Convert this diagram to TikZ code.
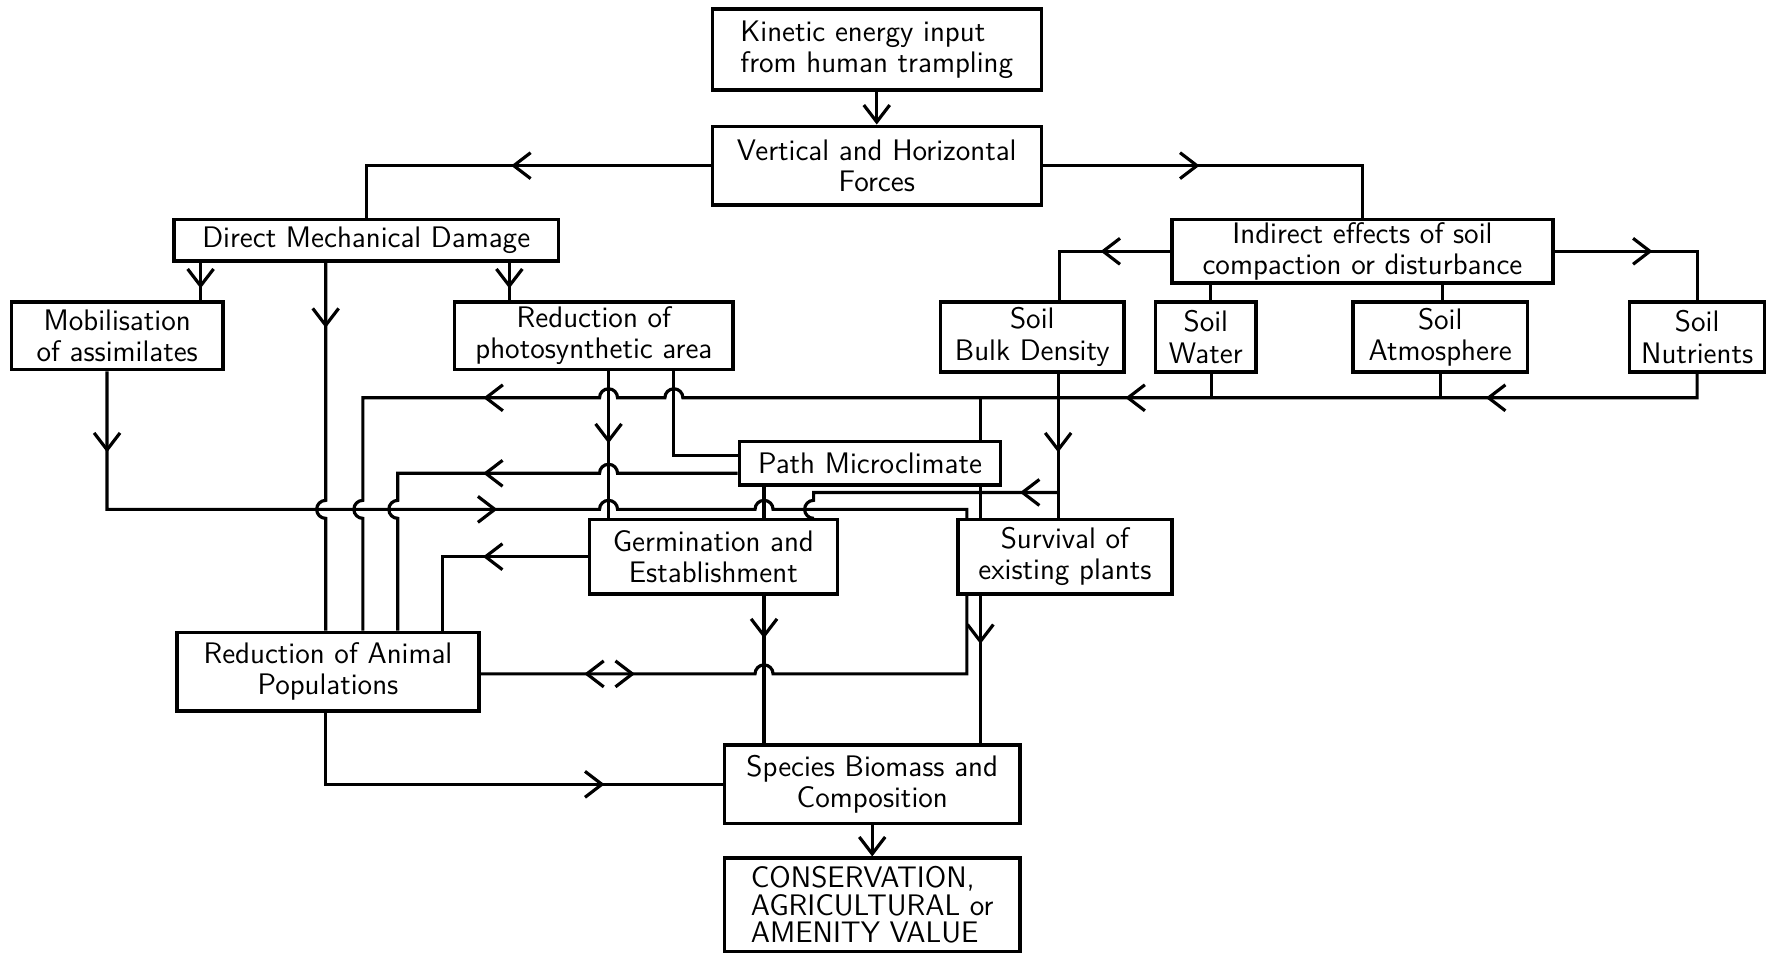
\documentclass[tikz,border=0pt]{standalone}
\usepackage{tikz}
\usetikzlibrary{arrows.meta}
\usetikzlibrary{decorations.markings}
\tikzset{>={Straight Barb[length=3mm,width=4.6mm]}}
\tikzset{box/.style={draw, line width=1.7pt, align=center, inner sep=1pt,
    font=\sffamily\fontsize{15}{15.8}\selectfont}}
\tikzset{marrow/.style={postaction={decorate,decoration={markings,
    mark=at position #1 with {\arrow{>}}}}}}
\tikzset{rarrow/.style={postaction={decorate,decoration={markings,
    mark=at position #1 with {\arrowreversed{>}}}}}}

\begin{document}
\begin{tikzpicture}[x=0.02cm, y=0.02cm, line width=1.6pt]
\useasboundingbox (0,0) rectangle (1568,-847);

% boxes
\node[box, minimum width=5.84cm, minimum height=1.44cm, align=left] (kinetic) at (778,-44) {Kinetic energy input\\from human trampling};
\node[box, minimum width=5.84cm, minimum height=1.40cm] (forces) at (778,-147) {Vertical and Horizontal\\Forces};
\node[box, minimum width=6.82cm, minimum height=0.74cm] (direct) at (325,-213) {Direct Mechanical Damage};
\node[box, minimum width=6.76cm, minimum height=1.12cm] (indirect) at (1209,-223) {Indirect effects of soil\\compaction or disturbance};
\node[box, minimum width=3.76cm, minimum height=1.20cm] (mobil) at (104,-298) {Mobilisation\\of assimilates};
\node[box, minimum width=4.94cm, minimum height=1.20cm] (photo) at (527,-298) {Reduction of\\photosynthetic area};
\node[box, minimum width=3.26cm, minimum height=1.24cm] (bulk) at (916,-299) {Soil\\Bulk Density};
\node[box, minimum width=1.78cm, minimum height=1.24cm] (water) at (1070,-299) {Soil\\Water};
\node[box, minimum width=3.10cm, minimum height=1.24cm] (atmos) at (1278,-299) {Soil\\Atmosphere};
\node[box, minimum width=2.40cm, minimum height=1.24cm] (nutr) at (1506,-299) {Soil\\Nutrients};
\node[box, minimum width=4.64cm, minimum height=0.78cm] (micro) at (772,-411) {Path Microclimate};
\node[box, minimum width=4.40cm, minimum height=1.32cm] (germ) at (633,-494) {Germination and\\Establishment};
\node[box, minimum width=3.80cm, minimum height=1.32cm] (surv) at (945,-494) {Survival of\\existing plants};
\node[box, minimum width=5.36cm, minimum height=1.40cm] (animal) at (291,-596) {Reduction of Animal\\Populations};
\node[box, minimum width=5.24cm, minimum height=1.40cm] (biomass) at (774,-696) {Species Biomass and\\Composition};
\node[box, minimum width=5.24cm, minimum height=1.66cm, align=left,
  font=\sffamily\fontsize{15}{14}\selectfont] (value) at (774,-803) {CONSERVATION,\\AGRICULTURAL or\\AMENITY VALUE};

% top
\draw[->] (kinetic) -- (forces);
\draw[marrow=3.54cm] (forces.west) -| (direct.north);
\draw[marrow=2.78cm] (forces.east) -| (indirect.north);

% direct damage
\draw[marrow=0.46cm] (178,0 |- direct.south) -- (178,0 |- mobil.north);
\draw[marrow=0.46cm] (452,0 |- direct.south) -- (452,0 |- photo.north);
\draw[marrow=1.16cm] (289,0 |- direct.south) -- (289,-444)
  arc[start angle=90,end angle=270,radius=0.16cm] -- (289,0 |- animal.north);

% indirect effects
\draw[marrow=1.24cm] (indirect.west) -| (940,0 |- bulk.north);
\draw[marrow=1.74cm] (indirect.east) -| (nutr.north);
\draw (1074,0 |- indirect.south) -- (1074,0 |- water.north);
\draw (1280,0 |- indirect.south) -- (1280,0 |- atmos.north);

% soil properties line
\draw[marrow=4.18cm, marrow=10.58cm, marrow=22.34cm] (nutr.south) -- (1506,-353)
  -- (606,-353) arc[start angle=0,end angle=180,radius=0.16cm]
  -- (548,-353) arc[start angle=0,end angle=180,radius=0.16cm]
  -- (322,-353) -- (322,-444) arc[start angle=90,end angle=270,radius=0.16cm]
  -- (322,0 |- animal.north);
\draw (1075,0 |- water.south) -- (1075,-353);
\draw (atmos.south) -- (atmos.south |- 0,-353);
\draw (870,-353) -- (870,0 |- micro.north);

% bulk density
\draw[marrow=1.4cm] (939,0 |- bulk.south) -- (939,0 |- surv.north);
\draw[marrow=0.68cm] (939,-437) -- (722,-437) -- (722,-444)
  arc[start angle=90,end angle=270,radius=0.16cm] -- (722,0 |- germ.north);

% photosynthetic area
\draw[marrow=1.28cm] (540,0 |- photo.south) -- (540,0 |- germ.north);
\draw (598,0 |- photo.south) |- (micro.west |- 0,-404);

% mobilisation
\draw[marrow=1.44cm, marrow=9.38cm] (95,0 |- mobil.south) -- (95,-452)
  -- (532,-452) arc[start angle=180,end angle=0,radius=0.16cm]
  -- (670,-452) arc[start angle=180,end angle=0,radius=0.16cm]
  -- (858,-452) -- (858,0 |- surv.north);

% path microclimate
\draw[marrow=4.7cm] (micro.west |- 0,-420) -- (548,-420)
  arc[start angle=0,end angle=180,radius=0.16cm] -- (353,-420) -- (353,-444)
  arc[start angle=90,end angle=270,radius=0.16cm] -- (353,0 |- animal.north);
\draw (678,0 |- micro.south) -- (678,0 |- germ.north);
\draw (870,0 |- micro.south) -- (870,0 |- surv.north);

% germination and survival
\draw[marrow=1.86cm] (germ.west) -| (393,0 |- animal.north);
\draw[marrow=0.76cm] (678,0 |- germ.south) -- (678,0 |- biomass.north);
\draw[marrow=0.86cm] (870,0 |- surv.south) -- (870,0 |- biomass.north);
\draw[rarrow=1.84cm, marrow=2.74cm] (animal.east |- 0,-598) -- (670,-598)
  arc[start angle=180,end angle=0,radius=0.16cm] -- (858,-598) -- (858,0 |- surv.south);

% animals and biomass
\draw[marrow=6.22cm] (289,0 |- animal.south) |- (biomass.west);
\draw[->] (biomass) -- (value);
\end{tikzpicture}
\end{document}
